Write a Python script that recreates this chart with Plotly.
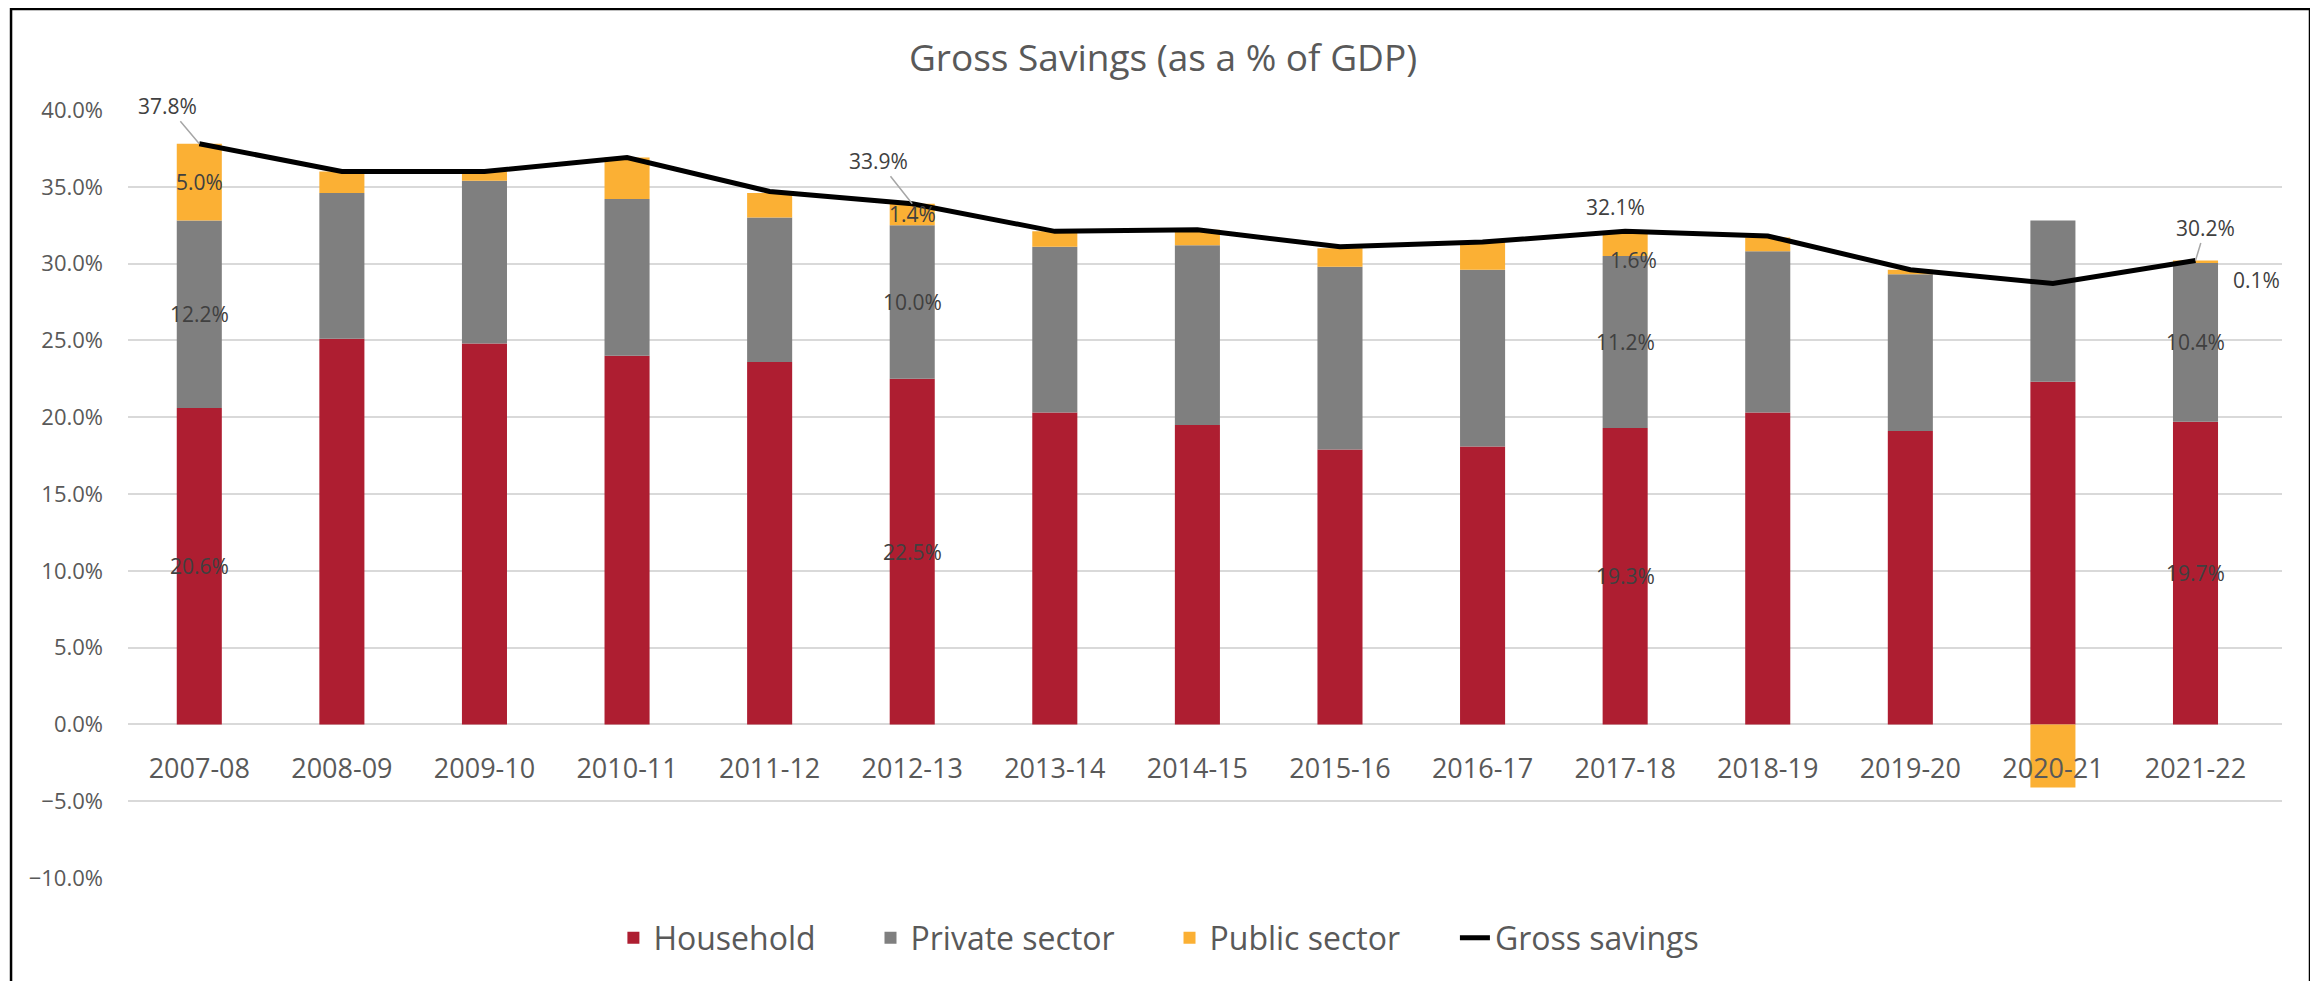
import plotly.graph_objects as go

YEARS = ["2007-08", "2008-09", "2009-10", "2010-11", "2011-12", "2012-13", "2013-14",
         "2014-15", "2015-16", "2016-17", "2017-18", "2018-19", "2019-20", "2020-21", "2021-22"]
HOUSEHOLD = [20.6, 25.1, 24.8, 24.0, 23.6, 22.5, 20.3, 19.5, 17.9, 18.1, 19.3, 20.3, 19.1, 22.3, 19.7]
PRIVATE = [12.2, 9.5, 10.6, 10.2, 9.4, 10.0, 10.8, 11.7, 11.9, 11.5, 11.2, 10.5, 10.2, 10.5, 10.4]
PUBLIC = [5.0, 1.4, 0.6, 2.7, 1.6, 1.4, 1.0, 1.0, 1.2, 1.8, 1.6, 0.9, 0.3, -4.1, 0.1]
GROSS = [37.8, 36.0, 36.0, 36.9, 34.7, 33.9, 32.1, 32.2, 31.1, 31.4, 32.1, 31.8, 29.6, 28.7, 30.2]

# years that carry data labels in the original
LABELLED = [0, 5, 10, 14]

COLORS = {"Household": "#AE1E31", "Private sector": "#7F7F7F",
          "Public sector": "#FBB034", "Gross savings": "#000000"}
FONT = "Open Sans"
GREY_TXT = "#595959"
LABEL_TXT = "#404040"
PAD = "\u00a0" * 6  # extra room after legend entries, like Excel's spacing

# manual nudges (px) of some labels, as moved by hand in the source chart
PUBLIC_SHIFT = {10: (8, -16), 14: (61, -19)}
GROSS_ARROW = {0: (-32, -38), 5: (-34, -43), 14: (10, -33)}
GROSS_SHIFT = {10: (-10, 24)}

fig = go.Figure()
for name, vals in [("Household", HOUSEHOLD), ("Private sector", PRIVATE), ("Public sector", PUBLIC)]:
    fig.add_trace(go.Bar(x=YEARS, y=vals, name=name + PAD, marker_color=COLORS[name],
                         marker_line_width=0))
fig.add_trace(go.Scatter(x=YEARS, y=GROSS, name="Gross savings", mode="lines",
                         line={"color": COLORS["Gross savings"], "width": 5}))

ann = []
lab_font = {"family": FONT, "size": 21, "color": LABEL_TXT}
for i in LABELLED:
    h, p, q, g = HOUSEHOLD[i], PRIVATE[i], PUBLIC[i], GROSS[i]
    ann.append(dict(x=YEARS[i], y=h / 2, text=f"{h:.1f}%", showarrow=False, font=lab_font))
    ann.append(dict(x=YEARS[i], y=h + p / 2, text=f"{p:.1f}%", showarrow=False, font=lab_font))
    dx, dy = PUBLIC_SHIFT.get(i, (0, 0))
    ann.append(dict(x=YEARS[i], y=h + p + q / 2, text=f"{q:.1f}%", showarrow=False,
                    xshift=dx, yshift=dy, font=lab_font))
    if i in GROSS_ARROW:
        ax, ay = GROSS_ARROW[i]
        ann.append(dict(x=YEARS[i], y=g, text=f"{g:.1f}%", showarrow=True, arrowhead=0,
                        arrowwidth=1.5, arrowcolor="#A6A6A6", ax=ax, ay=ay, standoff=0,
                        font=lab_font))
    else:
        dx, dy = GROSS_SHIFT.get(i, (0, 0))
        ann.append(dict(x=YEARS[i], y=g, text=f"{g:.1f}%", showarrow=False,
                        xshift=dx, yshift=dy, font=lab_font))

# page body keeps an 8px margin, so the figure is 8px smaller than the window
fig.update_layout(
    width=2310, height=973, autosize=False,
    margin={"l": 120, "r": 36, "t": 102, "b": 103, "autoexpand": False},
    paper_bgcolor="white", plot_bgcolor="white",
    barmode="relative", bargap=0.684,
    font={"family": FONT, "color": GREY_TXT},
    title={"text": "Gross Savings (as a % of GDP)", "x": 0.5, "xanchor": "center",
           "y": 1 - 50 / 973, "yanchor": "middle", "font": {"size": 37, "color": GREY_TXT}},
    legend={"orientation": "h", "x": 0.4786, "xanchor": "center",
            "y": -0.078, "yanchor": "middle", "font": {"size": 32, "color": GREY_TXT},
            "traceorder": "normal"},
    annotations=ann,
    shapes=[dict(type="rect", xref="paper", yref="paper", x0=-0.0543, x1=1.013,
                 y0=-0.16, y1=1.1315, line={"color": "black", "width": 2.5}, layer="above")],
)
fig.update_xaxes(type="category", anchor="free", position=(870 - 716.3) / 768, showline=False,
                 ticks="", ticklabelstandoff=26, tickangle=0,
                 tickfont={"size": 27, "color": GREY_TXT}, showgrid=False)
fig.update_yaxes(range=[-10, 40], dtick=5, tickformat=".1f", ticksuffix="%",
                 gridcolor="#D9D9D9", gridwidth=2, zeroline=False, showline=False,
                 ticklabelstandoff=24, tickfont={"size": 22, "color": GREY_TXT})

fig.write_html("out.html")
